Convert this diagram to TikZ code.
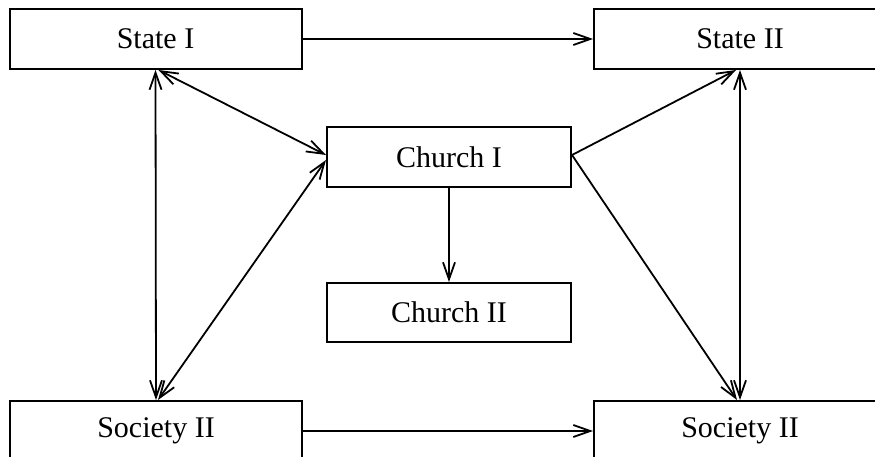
\documentclass[tikz,border=0pt]{standalone}
\usepackage{fontspec}
\setmainfont{Liberation Serif}
\usetikzlibrary{arrows.meta}
\begin{document}
\begin{tikzpicture}[x=1pt,y=-1pt,
  box/.style={draw,line width=2pt,inner sep=0pt,minimum width=292pt,minimum height=60pt,font=\fontsize{30}{36}\selectfont},
  cbox/.style={box,minimum width=244pt},
  tip/.style={Straight Barb[length=17pt,width=12pt,line width=1.8pt]},
  arr/.style={line width=1.8pt,-{Straight Barb[length=17pt,width=12pt,line width=1.8pt]}},
  darr/.style={line width=1.8pt,{Straight Barb[length=17pt,width=12pt,line width=1.8pt]}-{Straight Barb[length=17pt,width=12pt,line width=1.8pt]}}]
\useasboundingbox (0,0) rectangle (875,457);
\clip (0,0) rectangle (875,457);
\node[box] (SI) at (155.5,39) {State I};
\node[box] (SII) at (740,39) {State II};
\node[cbox] (CI) at (449,157) {Church I};
\node[cbox,minimum height=59pt] (CII) at (449,312.5) {Church II};
\node[box] (SoL) at (156,431) {Society II};
\node[box] (SoR) at (740,431) {Society II};
\draw[arr] (SI.east) -- (SII.west);
\draw[darr] (SI.south) -- (SoL.north);
\draw[darr] ([xshift=3pt]SI.south) -- ([yshift=2pt]CI.west);
\draw[darr] ([xshift=2pt]SoL.north) -- ([yshift=-3pt]CI.west);
\draw[arr] ([yshift=2pt]CI.east) -- ([xshift=-4pt]SII.south);
\draw[arr] ([yshift=2pt]CI.east) -- ([xshift=-3pt]SoR.north);
\draw[darr] (SII.south) -- (SoR.north);
\draw[arr] (CI) -- (CII);
\draw[arr] (SoL.east) -- (SoR.west);
\end{tikzpicture}
\end{document}
